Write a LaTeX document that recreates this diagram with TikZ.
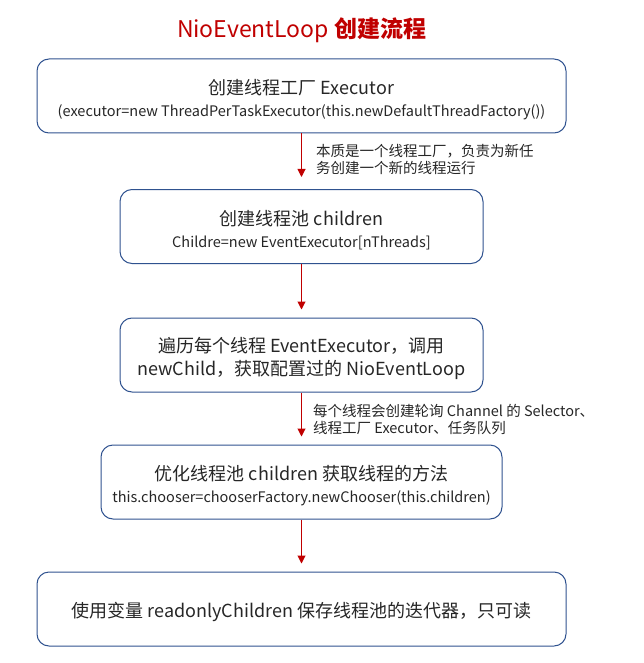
\documentclass[tikz,border=0pt]{standalone}
\usepackage{fontspec}
\setmainfont{Noto Sans CJK SC}
\usetikzlibrary{arrows.meta,positioning}
\definecolor{boxblue}{RGB}{47,82,143}
\definecolor{flowred}{RGB}{192,0,0}
\definecolor{textgray}{RGB}{38,38,38}
\newcommand{\bigtxt}{\fontsize{18}{22.5}\selectfont}
\newcommand{\codetxt}{\fontsize{14.5}{18}\selectfont}
\newcommand{\notetxt}{\fontsize{14.5}{17.5}\selectfont}
\newcommand{\lift}{\rule{0pt}{22pt}}

\begin{document}
\begin{tikzpicture}[x=1pt,y=-1pt,
        stage/.style={draw=boxblue,line width=1pt,rounded corners=12pt,minimum height=74pt,
            align=center,text=textgray,inner sep=0pt,font=\bigtxt},
        flow/.style={draw=flowred,line width=1pt,-{Triangle[width=8pt,length=8pt]},shorten >=8pt},
        note/.style={anchor=north west,align=left,text=textgray,inner sep=0pt,font=\notetxt}]
    \useasboundingbox (0,0) rectangle (643,663);
    % title
    \node[text=flowred,font=\fontsize{23}{27}\selectfont] (title) at (301.5,30) {NioEventLoop {\bfseries 创建流程}};
    % stages
    \node[stage,minimum width=529pt] (factory) at (301.5,96) {\lift 创建线程工厂 Executor\\{\codetxt (executor=new ThreadPerTaskExecutor(this.newDefaultThreadFactory())}};
    \node[stage,minimum width=363pt] (pool) at (301.5,226.5) {\lift 创建线程池 children\\{\codetxt Childre=new EventExecutor[nThreads]}};
    \node[stage,minimum width=363pt] (child) at (301.5,355) {\lift 遍历每个线程 EventExecutor，调用\\newChild，获取配置过的 NioEventLoop};
    \node[stage,minimum width=401pt] (chooser) at (301.5,482) {\lift 优化线程池 children 获取线程的方法\\{\codetxt this.chooser=chooserFactory.newChooser(this.children)}};
    \node[stage,minimum width=529pt] (readonly) at (301.5,609) {\lift 使用变量 readonlyChildren 保存线程池的迭代器，只可读};
    % notes
    \node[note] (note1) at (316,144) {本质是一个线程工厂，负责为新任\\务创建一个新的线程运行};
    \node[note] (note2) at (313,404) {每个线程会创建轮询 Channel 的 Selector、\\线程工厂 Executor、任务队列};
    % arrows
    \draw[flow,shorten >=12pt] (factory) -- (pool);
    \draw[flow] (pool) -- (child);
    \draw[flow] (child) -- (chooser);
    \draw[flow] (chooser) -- (readonly);
\end{tikzpicture}
\end{document}
